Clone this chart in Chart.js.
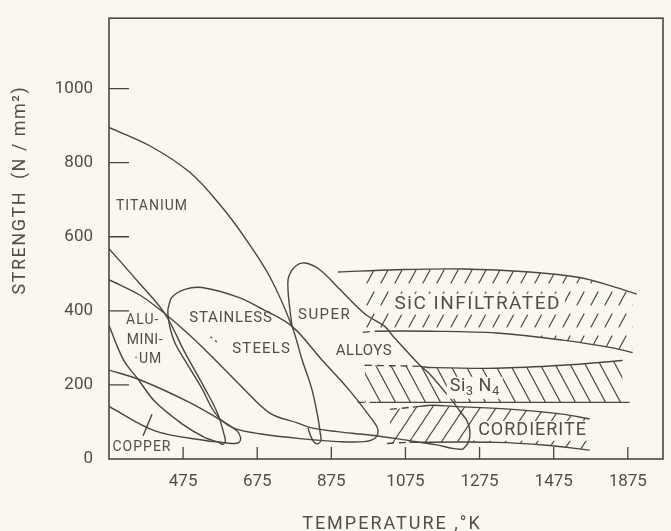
<!DOCTYPE html>
<html>
<head>
<meta charset="utf-8">
<script src="https://cdn.jsdelivr.net/npm/chart.js@4.4.1/dist/chart.umd.min.js"></script>
<style>
  html, body { margin: 0; padding: 0; background: #f9f7ee; }
  #wrap { position: relative; width: 671px; height: 531px; }
</style>
</head>
<body>
<div id="wrap"><canvas id="c"></canvas></div>
<script>
// temperature axis: ticks are evenly spaced, the last one is labelled 1875
// (axis units past 1475 are compressed, values below are in axis units)
const xTickValues = [475, 675, 875, 1075, 1275, 1475, 1675];
const xTickLabels = ["475", "675", "875", "1075", "1275", "1475", "1875"];
const yTickValues = [0, 200, 400, 600, 800, 1000];

// metals (closed or open outlines)
const titaniumT = [275, 386, 493, 574, 642, 709, 769, 796, 822, 839, 845, 847, 841, 830, 820, 812];
const titaniumS = [895, 845, 774, 687, 597, 492, 358, 268, 190, 111, 70, 52, 42, 44, 60, 84];

const lowerT = [275, 359, 426, 493, 561, 636, 709, 785, 822, 890, 965, 1052, 1114, 1160, 1206, 1230];
const lowerS = [484, 442, 392, 334, 268, 192, 124, 97, 84, 74, 66, 55, 45, 38, 28, 26];

const superT = [769, 763, 758, 760, 779, 804, 844, 893, 965, 1019, 1041, 1114, 1141, 1203, 1222, 1241, 1249, 1245, 1230];
const superS = [358, 405, 458, 492, 521, 529, 511, 463, 392, 358, 332, 253, 229, 155, 129, 103, 76, 45, 26];

const stainlessT = [434, 445, 480, 526, 623, 688, 769, 849, 920, 974, 1000, 995, 965, 893, 790, 682, 615, 580, 553, 526, 480, 453, 440, 434, 434];
const stainlessS = [405, 437, 458, 463, 437, 405, 358, 268, 190, 121, 82, 58, 47, 47, 55, 68, 82, 103, 137, 190, 266, 313, 353, 392, 405];

const aluminiumT = [275, 353, 426, 480, 534, 569, 585, 589, 582, 569, 534, 472, 399, 353, 318, 299, 275];
const aluminiumS = [568, 479, 392, 287, 190, 121, 68, 48, 40, 46, 58, 95, 155, 216, 261, 300, 361];

const copperT = [275, 353, 488, 580, 620, 630, 625, 605, 580, 534, 399, 275];
const copperS = [240, 216, 155, 103, 76, 58, 44, 42, 45, 50, 76, 142];
const copperLeaderT = [367, 391];
const copperLeaderS = [63, 121];

// ceramics (hatched bands)
const sicTopT = [893, 1052, 1230, 1410, 1545, 1634, 1699];
const sicTopS = [505, 511, 513, 505, 490, 466, 445];
const sicLowT = [960, 998, 1141, 1321, 1499, 1634, 1688];
const sicLowS = [342, 345, 345, 340, 321, 300, 287];

const si3n4TopT = [965, 1114, 1141, 1321, 1499, 1661];
const si3n4TopS = [253, 250, 247, 245, 253, 266];
const si3n4LowT = [946, 998, 1680];
const si3n4LowS = [153, 153, 153];

const cordTopT = [1033, 1095, 1149, 1203, 1365, 1499, 1572];
const cordTopS = [134, 140, 145, 142, 134, 121, 108];
const cordLowT = [1025, 1087, 1321, 1456, 1572];
const cordLowS = [42, 45, 45, 37, 24];

const steelsDotT = [549, 566];
const steelsDotS = [330, 316];

// region names
const labels = [
  { text: "TITANIUM", t: 391, s: 682, size: 14, sp: 1 },
  { text: "ALU-", t: 366, s: 374, size: 14, sp: 1 },
  { text: "MINI-", t: 372, s: 321, size: 14, sp: 0.5 },
  { text: "·UM", t: 381, s: 268, size: 14, sp: 1 },
  { text: "STAINLESS", t: 604, s: 379, size: 15, sp: 0.8 },
  { text: "STEELS", t: 687, s: 295, size: 15, sp: 1.2 },
  { text: "SUPER", t: 857, s: 387, size: 15, sp: 1.5 },
  { text: "ALLOYS", t: 963, s: 292, size: 15, sp: 0.5 },
  { text: "SiC INFILTRATED", t: 1270, s: 418, size: 19, sp: 1.5, clear: true },
  { text: "CORDIERITE", t: 1418, s: 76, size: 18, sp: 1, clear: true },
  { text: "COPPER", t: 364, s: 32, size: 14, sp: 1 }
];

const ink = "#4a463f";
const textInk = "#524e47";
const paper = "#f9f7ee";
const family = "Roboto, 'DejaVu Sans', sans-serif";

function pts(xs, ys) {
  return xs.map((x, i) => ({ x: x, y: ys[i] }));
}

function hatch(w, h, segs) {
  const c = document.createElement("canvas");
  c.width = w;
  c.height = h;
  const g = c.getContext("2d");
  g.strokeStyle = ink;
  g.lineWidth = 1.2;
  g.lineCap = "round";
  g.beginPath();
  segs.forEach(s => {
    g.moveTo(s[0], s[1]);
    g.lineTo(s[2], s[3]);
  });
  g.stroke();
  return g.createPattern(c, "repeat");
}

const sicHatch = hatch(14, 22, [[3, 19, 10, 6]]);
const si3n4Hatch = hatch(15, 28, [[-15, 0, 0, 28], [0, 0, 15, 28], [15, 0, 30, 28]]);
const cordHatch = hatch(16, 24, [[-16, 24, 0, 0], [0, 24, 16, 0], [16, 24, 32, 0]]);

// first segment of each band edge is drawn dashed
const dashFirst = { borderDash: ctx => (ctx.p0DataIndex === 0 ? [7, 5] : undefined) };

function curve(xs, ys, extra) {
  return Object.assign({ data: pts(xs, ys), showLine: true, fill: false }, extra || {});
}

const datasets = [
  curve(sicTopT, sicTopS, { fill: "+1", backgroundColor: sicHatch }),
  curve(sicLowT, sicLowS, { segment: dashFirst }),
  curve(si3n4TopT, si3n4TopS, { fill: "+1", backgroundColor: si3n4Hatch, segment: dashFirst }),
  curve(si3n4LowT, si3n4LowS, { segment: dashFirst, tension: 0 }),
  curve(cordTopT, cordTopS, { fill: "+1", backgroundColor: cordHatch, segment: dashFirst }),
  curve(cordLowT, cordLowS, { segment: dashFirst }),
  curve(titaniumT, titaniumS),
  curve(lowerT, lowerS),
  curve(superT, superS),
  curve(stainlessT, stainlessS),
  curve(aluminiumT, aluminiumS),
  curve(copperT, copperS),
  curve(copperLeaderT, copperLeaderS, { tension: 0 }),
  curve(steelsDotT, steelsDotS, { tension: 0, borderDash: [2, 4] })
];

const paperPlugin = {
  id: "paper",
  beforeDraw(chart) {
    const ctx = chart.ctx;
    ctx.save();
    ctx.fillStyle = paper;
    ctx.fillRect(0, 0, chart.width, chart.height);
    ctx.restore();
  },
  afterDatasetsDraw(chart) {
    const ctx = chart.ctx;
    const xs = chart.scales.x, ys = chart.scales.y;
    ctx.save();
    ctx.textAlign = "center";
    ctx.textBaseline = "middle";
    labels.forEach(l => {
      const px = xs.getPixelForValue(l.t), py = ys.getPixelForValue(l.s);
      ctx.font = l.size + "px " + family;
      ctx.letterSpacing = l.sp + "px";
      if (l.clear) {
        const w = ctx.measureText(l.text).width;
        ctx.fillStyle = paper;
        ctx.fillRect(px - w / 2 - 4, py - l.size * 0.55, w + 8, l.size * 1.1);
      }
      ctx.fillStyle = textInk;
      ctx.fillText(l.text, px, py);
    });

    // Si3N4 with subscripts
    const parts = [["Si", 18, 0], ["3", 13, 5], [" N", 18, 0], ["4", 13, 5]];
    ctx.letterSpacing = "0.5px";
    let total = 0;
    parts.forEach(p => { ctx.font = p[1] + "px " + family; total += ctx.measureText(p[0]).width; });
    let x0 = xs.getPixelForValue(1262) - total / 2;
    const y0 = ys.getPixelForValue(195);
    ctx.fillStyle = paper;
    ctx.fillRect(x0 - 3, y0 - 10, total + 6, 22);
    ctx.fillStyle = textInk;
    ctx.textAlign = "left";
    parts.forEach(p => {
      ctx.font = p[1] + "px " + family;
      ctx.fillText(p[0], x0, y0 + p[2]);
      x0 += ctx.measureText(p[0]).width;
    });
    ctx.restore();
  },
  afterDraw(chart) {
    const ctx = chart.ctx;
    const a = chart.chartArea;
    const xs = chart.scales.x, ys = chart.scales.y;
    ctx.save();
    ctx.strokeStyle = ink;
    ctx.lineWidth = 1.6;
    ctx.strokeRect(a.left, a.top, a.right - a.left, a.bottom - a.top);
    ctx.lineWidth = 1.3;
    ctx.beginPath();
    yTickValues.forEach(v => {
      if (v === 0) return;
      const y = ys.getPixelForValue(v);
      ctx.moveTo(a.left, y);
      ctx.lineTo(a.left + 20, y);
    });
    xTickValues.forEach(v => {
      const x = xs.getPixelForValue(v);
      ctx.moveTo(x, a.bottom);
      ctx.lineTo(x, a.bottom - 12);
    });
    ctx.stroke();

    ctx.fillStyle = textInk;
    ctx.textAlign = "center";
    ctx.textBaseline = "middle";
    ctx.font = "18px " + family;
    ctx.letterSpacing = "2px";
    ctx.fillText("TEMPERATURE ,°K", (a.left + a.right) / 2 + 6, a.bottom + 65);

    ctx.translate(20, a.top + (a.bottom - a.top) * 0.39);
    ctx.rotate(-Math.PI / 2);
    ctx.letterSpacing = "1.5px";
    ctx.fillText("STRENGTH  (N / mm²)", 0, 0);
    ctx.restore();
  }
};

new Chart(document.getElementById("c").getContext("2d"), {
  type: "scatter",
  data: { datasets: datasets },
  options: {
    responsive: true,
    maintainAspectRatio: false,
    animation: false,
    layout: { padding: { top: 7, right: 8, left: 0, bottom: 0 } },
    plugins: { legend: { display: false }, tooltip: { enabled: false } },
    elements: {
      point: { radius: 0, hoverRadius: 0 },
      line: { borderWidth: 1.4, borderColor: ink, tension: 0.35 }
    },
    scales: {
      x: {
        type: "linear",
        min: 275,
        max: 1770,
        afterBuildTicks: s => { s.ticks = xTickValues.map(v => ({ value: v })); },
        afterFit: s => { s.height = 72; },
        grid: { display: false },
        border: { display: false },
        ticks: {
          color: textInk,
          font: { family: family, size: 17 },
          padding: 5,
          maxRotation: 0,
          autoSkip: false,
          callback: v => xTickLabels[xTickValues.indexOf(v)]
        }
      },
      y: {
        min: 0,
        max: 1190,
        afterBuildTicks: s => { s.ticks = yTickValues.map(v => ({ value: v })); },
        afterFit: s => { s.width = 109; },
        grid: { display: false },
        border: { display: false },
        ticks: {
          color: textInk,
          font: { family: family, size: 17 },
          padding: 8,
          callback: v => String(v)
        }
      }
    }
  },
  plugins: [paperPlugin]
});
</script>
</body>
</html>
